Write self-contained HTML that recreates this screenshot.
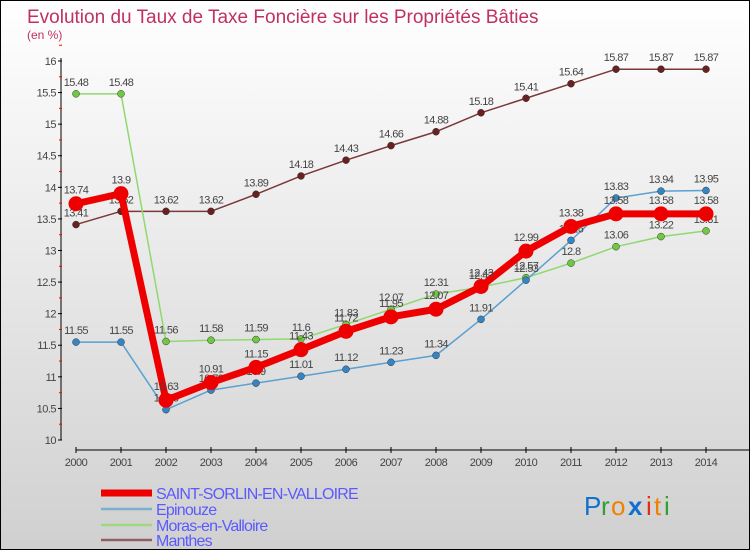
<!DOCTYPE html>
<html><head><meta charset="utf-8"><style>
body{margin:0}
#c{position:relative;width:750px;height:550px;box-sizing:border-box;border:1px solid #000;background:linear-gradient(#ffffff,#d0d0d0);overflow:hidden;font-family:"Liberation Sans",sans-serif}
</style></head><body>
<div id="c">
<svg id="s" width="748" height="548" style="position:absolute;left:0;top:0">
<text x="26" y="22" font-size="19" fill="#c03060">Evolution du Taux de Taxe Foncière sur les Propriétés Bâties</text>
<text x="26" y="38" font-size="12" fill="#c03060">(en %)</text>
<g id="axes"></g><g id="series"></g><g id="legend"></g>
<g font-size="26" font-family="'Liberation Sans',sans-serif">
<text x="583" y="514" fill="#1070d0">P</text><text x="600" y="514" fill="#30a030">r</text><text x="610" y="514" fill="#f08000">o</text><text x="627" y="514" fill="#1070d0" font-weight="bold">x</text><text x="645" y="514" fill="#e03010">i</text><text x="653" y="514" fill="#f08000">t</text><text x="663" y="514" fill="#30a030">i</text>
</g>
</svg>
</div>
<script>
const years=[2000,2001,2002,2003,2004,2005,2006,2007,2008,2009,2010,2011,2012,2013,2014];
const saint=[13.74,13.9,10.63,10.91,11.15,11.43,11.72,11.95,12.07,12.43,12.99,13.38,13.58,13.58,13.58];
const epinouze=[11.55,11.55,10.48,10.79,10.9,11.01,11.12,11.23,11.34,11.91,12.53,13.16,13.83,13.94,13.95];
const moras=[15.48,15.48,11.56,11.58,11.59,11.6,11.83,12.07,12.31,12.42,12.57,12.8,13.06,13.22,13.31];
const manthes=[13.41,13.62,13.62,13.62,13.89,14.18,14.43,14.66,14.88,15.18,15.41,15.64,15.87,15.87,15.87];
const yTicks=[10,10.5,11,11.5,12,12.5,13,13.5,14,14.5,15,15.5,16];
const seriesNames=["SAINT-SORLIN-EN-VALLOIRE","Epinouze","Moras-en-Valloire","Manthes"];
const NS="http://www.w3.org/2000/svg";
const X=i=>75+i*45;
const Y=v=>439-(v-10)*63.17;
function mk(t,a,p){const e=document.createElementNS(NS,t);for(const k in a)e.setAttribute(k,a[k]);p.appendChild(e);return e;}
const ax=document.getElementById('axes');
let l=mk('line',{x1:60,y1:Y(16)-3,x2:60,y2:Y(10),stroke:'#000'},ax);


yTicks.forEach(v=>{
 mk('line',{x1:57,x2:61,y1:Y(v),y2:Y(v),stroke:'#000'},ax);
 mk('line',{x1:58,x2:61,y1:Y(v+0.25),y2:Y(v+0.25),stroke:'#f00'},ax);
 const t=mk('text',{x:55,y:Y(v)+4,'text-anchor':'end','font-size':11,fill:'#444','letter-spacing':'-0.5'},ax);
 t.textContent=String(v);
 
 
});
l=mk('line',{x1:75,y1:449,x2:748,y2:449,stroke:'#000'},ax);


years.forEach((y,i)=>{
 mk('line',{x1:X(i),x2:X(i),y1:446,y2:452,stroke:'#000'},ax);
 const t=mk('text',{x:X(i),y:465,'text-anchor':'middle','font-size':11,fill:'#444','letter-spacing':'-0.5'},ax);
 t.textContent=String(y);
 
 
});
const sg=document.getElementById('series');
const defs=[[manthes,'#7a3838','#6a2020',1.5,3.5,'manthes'],[moras,'#90d870','#70c840',1.5,3.5,'moras'],[epinouze,'#5aa0d0','#3585c5',1.5,3.5,'epinouze'],[saint,'#ee0000','#ee0000',7,7.5,'saint-sorlin']];
defs.forEach(([d,c,mc,w,r,n])=>{
 const g=mk('g',{},sg);
 
 
 const p=mk('polyline',{points:d.map((v,i)=>X(i)+','+Y(v)).join(' '),fill:'none',stroke:c,'stroke-width':w,'stroke-linejoin':'round'},g);
 
 
 d.forEach((v,i)=>{
  const m=mk('circle',{cx:X(i),cy:Y(v),r:r,fill:mc,stroke:n=='saint-sorlin'?'#d00':'#333','stroke-width':n=='saint-sorlin'?0:0.5},g);
  
  
  const t=mk('text',{x:X(i),y:Y(v)-(n=='saint-sorlin'?10:8),'text-anchor':'middle','font-size':11,fill:'#444','letter-spacing':'-0.6'},g);
  t.textContent=String(v);
  
  
 });
});
const lg=document.getElementById('legend');
const lc=[['#ee0000',7],['#7ab0d0',2.5],['#a0d880',2.5],['#906060',2.5]];
seriesNames.forEach((s,i)=>{
 const y=[492,508,524,539][i];
 const g=mk('g',{},lg);
 
 
 mk('line',{x1:100,x2:151,y1:y,y2:y,stroke:lc[i][0],'stroke-width':lc[i][1]},g);
 const t=mk('text',{x:155,y:y+6,'font-size':16,fill:'#5a5aff','letter-spacing':'-0.8'},g);
 t.textContent=s;
 
 
});
</script>
</body></html>
